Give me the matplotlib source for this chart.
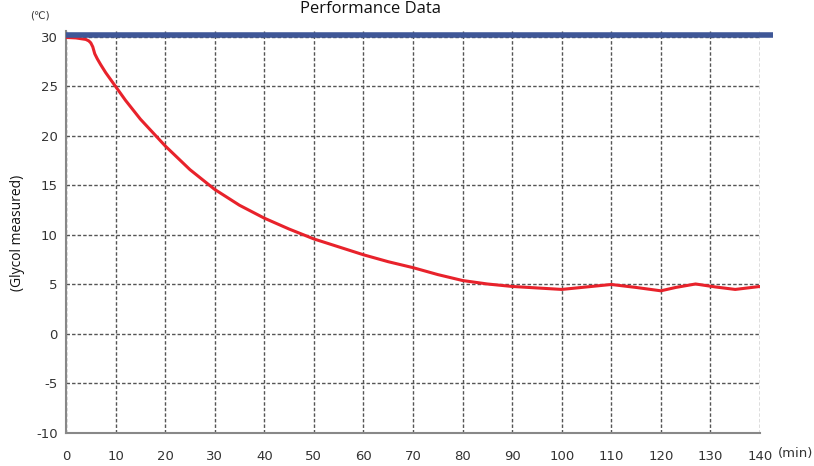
import matplotlib
matplotlib.use("Agg")
import matplotlib.pyplot as plt

plt.rcParams["axes.unicode_minus"] = False

# Data
time_min = [0, 2, 4, 4.6, 5.0, 5.4, 5.8, 6.3, 7, 8, 10, 12, 15, 20, 25, 30, 35, 40, 45, 50, 55, 60,
            65, 70, 75, 80, 85, 90, 95, 100, 105, 110, 115, 120, 123, 127, 131, 135, 140]
glycol_temp = [29.95, 29.9, 29.75, 29.6, 29.4, 29.0, 28.3, 27.8, 27.2, 26.4, 25.0, 23.6, 21.7, 19.0,
               16.6, 14.6, 13.0, 11.7, 10.6, 9.6, 8.8, 8.0, 7.3, 6.7, 6.0, 5.4, 5.05,
               4.8, 4.65, 4.5, 4.75, 5.0, 4.7, 4.36, 4.7, 5.05, 4.75, 4.5, 4.8]
setpoint_x = [0, 142.6]
setpoint_y = [30.2, 30.2]
x_ticks = list(range(0, 141, 10))
y_ticks = list(range(-10, 31, 5))

fig = plt.figure(figsize=(8.14, 4.66), dpi=100)
ax = fig.add_axes([66/814, 33/466, (760-66)/814, (433-31)/466])

ax.set_xlim(0, 140)
ax.set_ylim(-10, 30.6)
ax.set_xticks(x_ticks)
ax.set_yticks(y_ticks)
ax.grid(True, color="#555555", linestyle=(0, (2.5, 1.5)), linewidth=1.0)
ax.set_axisbelow(True)

ax.plot(time_min, glycol_temp, color="#e8222b", linewidth=2.2, zorder=3)
ax.plot(setpoint_x, setpoint_y, color="#3f5797", linewidth=4, clip_on=False,
        solid_capstyle="butt", zorder=4)

for s in ["top", "right"]:
    ax.spines[s].set_visible(False)
for s in ["left", "bottom"]:
    ax.spines[s].set_color("#888888")
    ax.spines[s].set_linewidth(1.5)

ax.tick_params(axis="both", length=0, labelsize=9.5, colors="#333333")
ax.tick_params(axis="x", pad=12)
ax.tick_params(axis="y", pad=6)

fig.text(370/814, 1 - 1/466, "Performance Data", ha="center", va="top",
         fontsize=12, family="Open Sans", color="#111111")
fig.text(40/814, 1 - 15/466, "(℃)", ha="center", va="center", fontsize=7.5, color="#333333")
fig.text(18/814, 0.5, "(Glycol measured)", ha="center", va="center", rotation=90,
         fontsize=10, family="Open Sans", color="#111111")
fig.text(778/814, 1 - 454/466, "(min)", ha="left", va="center", fontsize=9.5, color="#333333")

fig.savefig("out.png", dpi=100)
